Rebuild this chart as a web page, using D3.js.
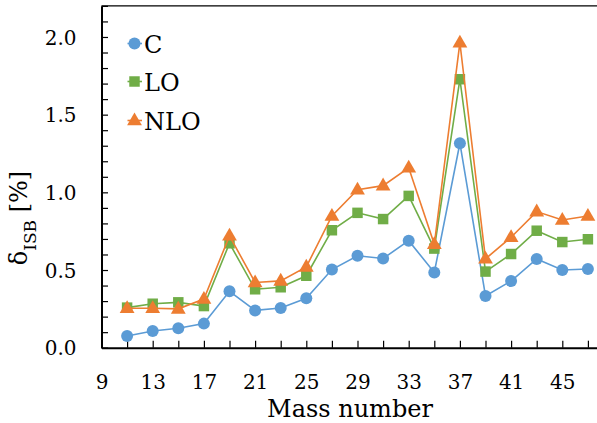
<!DOCTYPE html>
<html>
<head>
<meta charset="utf-8">
<script src="https://cdn.jsdelivr.net/npm/d3@7"></script>
<style>
  html, body { margin: 0; padding: 0; background: #fff; }
  svg { display: block; }
  text { font-family: "DejaVu Serif", serif; fill: #000; }
</style>
</head>
<body>
<svg id="chart" width="597" height="423"></svg>
<script>
// ---- data ----
const massNumbers = [11, 13, 15, 17, 19, 21, 23, 25, 27, 29, 31, 33, 35, 37, 39, 41, 43, 45, 47];
const seriesC   = [0.075, 0.107, 0.125, 0.155, 0.363, 0.240, 0.255, 0.318, 0.503, 0.592, 0.574, 0.689, 0.484, 1.316, 0.333, 0.429, 0.571, 0.500, 0.507];
const seriesLO  = [0.258, 0.283, 0.292, 0.268, 0.672, 0.376, 0.389, 0.463, 0.756, 0.868, 0.828, 0.977, 0.638, 1.728, 0.490, 0.603, 0.753, 0.680, 0.698];
const seriesNLO = [0.254, 0.254, 0.250, 0.313, 0.720, 0.420, 0.430, 0.520, 0.848, 1.017, 1.043, 1.158, 0.666, 1.963, 0.572, 0.711, 0.876, 0.822, 0.848];
const seriesNames = ["C", "LO", "NLO"];
const xTickValues = [9, 11, 13, 15, 17, 19, 21, 23, 25, 27, 29, 31, 33, 35, 37, 39, 41, 43, 45, 47];
const xTickLabels = [9, 13, 17, 21, 25, 29, 33, 37, 41, 45];
const yTickLabels = [0.0, 0.5, 1.0, 1.5, 2.0];

const colors = { C: "#5B9BD5", LO: "#70AD47", NLO: "#ED7D31" };
const seriesData = { C: seriesC, LO: seriesLO, NLO: seriesNLO };

const svg = d3.select("#chart");
const x = d3.scaleLinear().domain([9, 48]).range([101.5, 600.7]);
const y = d3.scaleLinear().domain([0, 2.2]).range([347.7, 5.9]);

// top border
svg.append("line")
  .attr("x1", x(9)).attr("x2", 597)
  .attr("y1", y(2.2)).attr("y2", y(2.2))
  .attr("stroke", "#000").attr("stroke-width", 1.2);

// x axis
const xAxis = d3.axisBottom(x)
  .tickValues(xTickValues)
  .tickSizeInner(-7).tickSizeOuter(0)
  .tickFormat(d => xTickLabels.includes(d) ? String(d) : "");
const gx = svg.append("g").attr("transform", `translate(0,${y(0)})`).call(xAxis);
gx.select(".domain").attr("stroke", "#000").attr("stroke-width", 2);
gx.selectAll(".tick line").attr("stroke", "#000").attr("stroke-width", 1.2);
gx.selectAll(".tick text")
  .attr("y", 41.5).attr("dy", null)
  .style("font-family", "'DejaVu Serif', serif")
  .style("font-size", "20px").attr("fill", "#000");

// y axis
const yTickValues = d3.range(0, 23).map(i => i / 10);
const yAxis = d3.axisLeft(y)
  .tickValues(yTickValues)
  .tickSizeInner(-6.5).tickSizeOuter(0)
  .tickFormat(d => yTickLabels.some(v => Math.abs(v - d) < 1e-9) ? d3.format(".1f")(d) : "");
const gy = svg.append("g").attr("transform", `translate(${x(9)},0)`).call(yAxis);
gy.select(".domain").attr("stroke", "#000").attr("stroke-width", 2);
gy.selectAll(".tick line").attr("stroke", "#000").attr("stroke-width", 1.2);
gy.selectAll(".tick text")
  .attr("x", -25).attr("dy", "0.36em")
  .style("font-family", "'DejaVu Serif', serif")
  .style("font-size", "20px").attr("fill", "#000");

// axis titles
svg.append("text")
  .attr("x", 350).attr("y", 416.5)
  .attr("text-anchor", "middle")
  .style("font-size", "24px")
  .text("Mass number");

const yt = svg.append("text")
  .attr("transform", "translate(27,218) rotate(-90)")
  .attr("text-anchor", "middle")
  .style("font-size", "24px");
yt.append("tspan").text("δ");
yt.append("tspan").attr("dy", 9).style("font-size", "17px").text("ISB");
yt.append("tspan").attr("dy", -9).text(" [%]");

// series
const line = d3.line().x((d, i) => x(massNumbers[i])).y(d => y(d));
const triangle = d3.symbol().type(d3.symbolTriangle).size(95);
const square = d3.symbol().type(d3.symbolSquare).size(110);

function drawMarker(g, name, cx, cy) {
  if (name === "C") {
    g.append("circle").attr("cx", cx).attr("cy", cy).attr("r", 6).attr("fill", colors[name]);
  } else if (name === "LO") {
    g.append("path").attr("d", square()).attr("transform", `translate(${cx},${cy})`).attr("fill", colors[name]);
  } else {
    g.append("path").attr("d", triangle()).attr("transform", `translate(${cx},${cy + 0.5})`).attr("fill", colors[name]);
  }
}

seriesNames.forEach(name => {
  const g = svg.append("g");
  g.append("path")
    .datum(seriesData[name])
    .attr("d", line)
    .attr("fill", "none")
    .attr("stroke", colors[name])
    .attr("stroke-width", 1.6);
  seriesData[name].forEach((v, i) => drawMarker(g, name, x(massNumbers[i]), y(v)));
});

// legend
const legendY = [43.5, 81.5, 120.5];
seriesNames.forEach((name, i) => {
  const g = svg.append("g");
  g.append("line")
    .attr("x1", 127.5).attr("x2", 142)
    .attr("y1", legendY[i]).attr("y2", legendY[i])
    .attr("stroke", colors[name]).attr("stroke-width", 1.6);
  drawMarker(g, name, 134.5, legendY[i]);
  g.append("text")
    .attr("x", 144).attr("y", legendY[i] + 9.5)
    .style("font-size", "24px")
    .text(name);
});
</script>
</body>
</html>
